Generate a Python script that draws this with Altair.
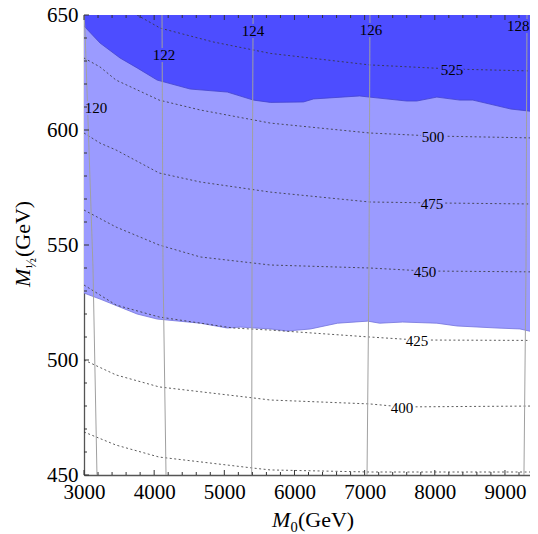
import altair as alt
import pandas as pd

# ---------------- data ----------------
# upper edge of the light band (= lower edge of dark region)
m0_upper = [3000, 3229, 3514, 3757, 4043, 4514, 5043, 5414, 5657, 6129, 6271,
            6929, 7071, 7600, 7743, 8029, 8357, 8543, 9086, 9471]
m12_upper = [645.2, 637.8, 631.3, 627.0, 621.7, 617.8, 616.5, 613.0, 612.0, 612.2,
             613.5, 614.8, 614.3, 612.6, 612.6, 614.3, 613.0, 613.0, 609.1, 607.8]

# lower edge of the light band
m0_lower = [3000, 3229, 3757, 4043, 4657, 5043, 5229, 5657, 5900, 6229, 6614,
            7043, 7214, 7543, 8029, 8314, 8886, 9214, 9471]
m12_lower = [529.1, 526.5, 520.0, 517.8, 516.0, 513.9, 514.3, 513.5, 512.6, 513.5,
             516.0, 516.9, 516.0, 516.5, 516.0, 514.8, 513.9, 513.5, 511.7]

# dashed contours
c375_m0 = [3000, 3457, 4071, 5414, 5657, 7071, 9471]
c375_m12 = [468.7, 463.0, 457.8, 453.0, 452.2, 451.3, 451.3]
c400_m0 = [3000, 3457, 4071, 5414, 5657, 7071, 7532, 9471]
c400_m12 = [500.0, 493.5, 488.3, 483.5, 482.6, 480.9, 479.6, 480.0]
c425_m0 = [3000, 3457, 4071, 5129, 5657, 7071, 7746, 9471]
c425_m12 = [532.6, 523.9, 518.7, 513.9, 513.0, 510.0, 508.7, 508.5]
c450_m0 = [3000, 3457, 4071, 4657, 5657, 7071, 7860, 9471]
c450_m12 = [565.2, 557.8, 550.0, 544.8, 541.3, 540.0, 538.7, 538.3]
c475_m0 = [3000, 3229, 3457, 4071, 4657, 5657, 7071, 7957, 9471]
c475_m12 = [598.7, 594.3, 591.3, 581.3, 577.4, 573.0, 568.7, 568.3, 567.8]
c500_m0 = [3000, 3229, 3457, 4071, 4657, 5657, 7071, 7971, 9471]
c500_m12 = [631.3, 627.4, 621.7, 613.0, 608.7, 603.0, 598.7, 597.4, 596.5]
c525_m0 = [3757, 4086, 4839, 5657, 7071, 8257, 9471]
c525_m12 = [650.0, 644.3, 638.3, 633.3, 628.3, 626.5, 625.6]

dash_levels = ["375", "400", "425", "450", "475", "500", "525"]
dash_m0 = [c375_m0, c400_m0, c425_m0, c450_m0, c475_m0, c500_m0, c525_m0]
dash_m12 = [c375_m12, c400_m12, c425_m12, c450_m12, c475_m12, c500_m12, c525_m12]

# dashed contour labels
dlab_text = ["400", "425", "450", "475", "500", "525"]
dlab_m0 = [7532, 7746, 7860, 7960, 7974, 8245]
dlab_m12 = [479.6, 508.7, 538.7, 568.3, 597.4, 626.5]
dlab_bg = ["white", "white", "#9b9bff", "#9b9bff", "#9b9bff", "#4d4dff"]

# grey (Higgs-mass) contours
h120_m0 = [3000, 3014, 3128, 3185]
h120_m12 = [650.0, 643.5, 540.4, 450.0]
h122_m0 = [4112, 4126, 4169]
h122_m12 = [650.0, 540.4, 450.0]
h124_m0 = [5410, 5395, 5390]
h124_m12 = [650.0, 540.4, 450.0]
h126_m0 = [7076, 7062, 7034]
h126_m12 = [650.0, 540.4, 450.0]
h128_m0 = [9314, 9300, 9271]
h128_m12 = [650.0, 540.4, 450.0]
h_levels = ["120", "122", "124", "126", "128"]
h_m0 = [h120_m0, h122_m0, h124_m0, h126_m0, h128_m0]
h_m12 = [h120_m12, h122_m12, h124_m12, h126_m12, h128_m12]

hlab_text = ["120", "122", "124", "126", "128"]
hlab_m0 = [3171, 4140, 5409, 7091, 9190]
hlab_m12 = [610.0, 633.0, 643.5, 643.9, 645.5]
hlab_bg = ["#9b9bff", "#4d4dff", "#4d4dff", "#4d4dff", "#4d4dff"]

x_major = [3000, 4000, 5000, 6000, 7000, 8000, 9000]
x_minor = [v for v in range(3000, 9401, 200) if v % 1000 != 0]
y_major = [450, 500, 550, 600, 650]
y_minor = [v for v in range(450, 651, 10) if v % 50 != 0]

Y_TOP = 650

# ---------------- frames ----------------
lower_df = pd.DataFrame({"m0": m0_lower, "m12": m12_lower})
lower_df["top"] = Y_TOP
upper_df = pd.DataFrame({"m0": m0_upper, "m12": m12_upper})
upper_df["top"] = Y_TOP

rows = []
for lev, xs_, ys_ in zip(dash_levels, dash_m0, dash_m12):
    for i, (a, b) in enumerate(zip(xs_, ys_)):
        rows.append({"level": lev, "i": i, "m0": a, "m12": b})
dash_df = pd.DataFrame(rows)

rows = []
for lev, xs_, ys_ in zip(h_levels, h_m0, h_m12):
    for i, (a, b) in enumerate(zip(xs_, ys_)):
        rows.append({"level": lev, "i": i, "m0": a, "m12": b})
h_df = pd.DataFrame(rows)

lab_df = pd.DataFrame({
    "t": dlab_text + hlab_text,
    "m0": dlab_m0 + hlab_m0,
    "m12": dlab_m12 + hlab_m12,
    "bg": dlab_bg + hlab_bg,
})

xmaj_df = pd.DataFrame({"m0": x_major})
xmin_df = pd.DataFrame({"m0": x_minor})
ymaj_df = pd.DataFrame({"m12": y_major})
ymin_df = pd.DataFrame({"m12": y_minor})

W, H = 446, 460
SERIF = "Liberation Serif"
DARK = "#4d4dff"
LIGHT = "#9b9bff"

xs = alt.Scale(domain=[3000, 9357], nice=False, zero=False)
ys = alt.Scale(domain=[450, 650], nice=False, zero=False)
xaxis = alt.Axis(values=x_major, format="d", ticks=False, grid=False,
                 domainColor="#555", domainWidth=1.3,
                 labelFont=SERIF, labelFontSize=21, labelColor="black",
                 labelPadding=6, labelFlush=False, labelOverlap=False, title=None)
yaxis = alt.Axis(values=y_major, format="d", ticks=False, grid=False,
                 domainColor="#555", domainWidth=1.3,
                 labelFont=SERIF, labelFontSize=21, labelColor="black",
                 labelPadding=6, labelFlush=False, labelOverlap=False, title=None)


def X():
    return alt.X("m0:Q", scale=xs, axis=xaxis)


def Y():
    return alt.Y("m12:Q", scale=ys, axis=yaxis)


light = alt.Chart(lower_df).mark_area(color=LIGHT, clip=True).encode(
    x=X(), y=Y(), y2="top:Q")
light_edge = alt.Chart(lower_df).mark_line(color="#7474dc", strokeWidth=0.8, clip=True).encode(
    x=X(), y=Y())
dark = alt.Chart(upper_df).mark_area(color=DARK, clip=True).encode(
    x=X(), y=Y(), y2="top:Q")
dark_edge = alt.Chart(upper_df).mark_line(color="#4444cc", strokeWidth=0.8, clip=True).encode(
    x=X(), y=Y())

dashed = alt.Chart(dash_df).mark_line(color="#333333", strokeWidth=0.8,
                                      strokeDash=[2, 2.5], clip=True).encode(
    x=X(), y=Y(), detail="level:N", order="i:Q")
grey = alt.Chart(h_df).mark_line(color="#a0a0a0", strokeWidth=1, clip=True).encode(
    x=X(), y=Y(), detail="level:N", order="i:Q")

halo = alt.Chart(lab_df).mark_text(font=SERIF, fontSize=15, baseline="middle",
                                   strokeWidth=4, strokeJoin="round", dy=1).encode(
    x=X(), y=Y(), text="t:N",
    color=alt.Color("bg:N", scale=None), stroke=alt.Stroke("bg:N", scale=None))
labels = alt.Chart(lab_df).mark_text(font=SERIF, fontSize=15, baseline="middle",
                                     color="black", dy=1).encode(
    x=X(), y=Y(), text="t:N")

tick_col = "#333333"
xt_bot_maj = alt.Chart(xmaj_df).mark_rule(color=tick_col, strokeWidth=1).encode(
    x=X(), y=alt.value(H), y2=alt.value(H - 5))
xt_bot_min = alt.Chart(xmin_df).mark_rule(color=tick_col, strokeWidth=1).encode(
    x=X(), y=alt.value(H), y2=alt.value(H - 3))
xt_top_maj = alt.Chart(xmaj_df).mark_rule(color=tick_col, strokeWidth=1).encode(
    x=X(), y=alt.value(0), y2=alt.value(5))
xt_top_min = alt.Chart(xmin_df).mark_rule(color=tick_col, strokeWidth=1).encode(
    x=X(), y=alt.value(0), y2=alt.value(3))
yt_l_maj = alt.Chart(ymaj_df).mark_rule(color=tick_col, strokeWidth=1).encode(
    y=Y(), x=alt.value(0), x2=alt.value(5))
yt_l_min = alt.Chart(ymin_df).mark_rule(color=tick_col, strokeWidth=1).encode(
    y=Y(), x=alt.value(0), x2=alt.value(3))

# axis titles built from text pieces (italic M with subscript)
t_df = pd.DataFrame({"a": ["M"], "b": ["0"], "c": ["(GeV)"], "h": ["\u00bd"]})
xt1 = alt.Chart(t_df).mark_text(font=SERIF, fontSize=22, fontStyle="italic", align="left",
                                baseline="alphabetic", color="black").encode(
    text="a:N", x=alt.value(188), y=alt.value(512))
xt2 = alt.Chart(t_df).mark_text(font=SERIF, fontSize=14.5, align="left",
                                baseline="alphabetic", color="black").encode(
    text="b:N", x=alt.value(206.5), y=alt.value(517))
xt3 = alt.Chart(t_df).mark_text(font=SERIF, fontSize=22, align="left",
                                baseline="alphabetic", color="black").encode(
    text="c:N", x=alt.value(214), y=alt.value(512))
yt1 = alt.Chart(t_df).mark_text(font=SERIF, fontSize=22, fontStyle="italic", align="left",
                                baseline="alphabetic", angle=270, color="black").encode(
    text="a:N", x=alt.value(-54), y=alt.value(272))
yt2 = alt.Chart(t_df).mark_text(font=SERIF, fontSize=14, align="left",
                                baseline="alphabetic", angle=270, color="black").encode(
    text="h:N", x=alt.value(-48), y=alt.value(253.5))
yt3 = alt.Chart(t_df).mark_text(font=SERIF, fontSize=22, align="left",
                                baseline="alphabetic", angle=270, color="black").encode(
    text="c:N", x=alt.value(-54), y=alt.value(242))

chart = alt.layer(
    light, light_edge, dark, dark_edge, dashed, grey, halo, labels,
    xt_bot_maj, xt_bot_min, xt_top_maj, xt_top_min, yt_l_maj, yt_l_min,
    xt1, xt2, xt3, yt1, yt2, yt3,
).properties(
    width=W, height=H,
    padding={"left": 76, "top": 7, "right": 0, "bottom": 60},
    autosize=alt.AutoSizeParams(type="none"),
).configure_view(stroke="#777777", strokeWidth=1)

chart.save("out.html", embed_options={"renderer": "svg", "actions": False})
